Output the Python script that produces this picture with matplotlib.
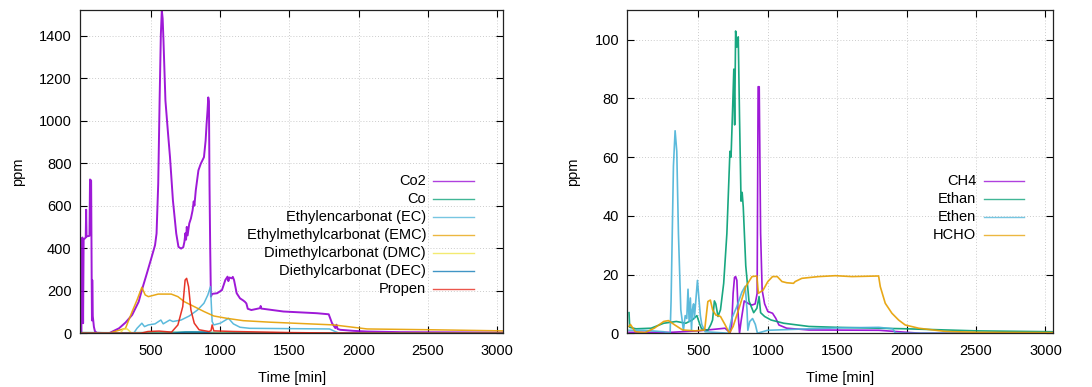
"""Two gas-concentration traces side by side, gnuplot look (inward ticks, dotted grid)."""

import matplotlib

matplotlib.use("Agg")
import matplotlib.pyplot as plt

plt.rcParams["font.family"] = ["Liberation Sans", "DejaVu Sans"]

# gnuplot's default line colours
_PURPLE = "#9400d3"
_GREEN = "#009e73"
_SKY = "#4ab3d8"
_ORANGE = "#e69f00"
_YELLOW = "#f0e442"
_BLUE = "#0072b2"
_RED = "#e51e10"
_INK = "#000000"

# ---- left panel: carbonates and main gases (ppm over minutes) ----
co2_t = [0, 2, 8, 12, 16, 31, 34, 37, 58, 62, 70, 74, 76, 78, 82, 90, 97, 110,
         200, 224, 271, 318, 366, 413, 436, 472, 507, 531, 542, 554, 564, 573,
         580, 586, 592, 606, 625, 639, 660, 684, 700, 719, 735, 743, 750, 755,
         760, 766, 778, 790, 802, 810, 815, 825, 844, 861, 884, 896, 903, 910,
         915, 920, 924, 929, 934, 943, 979, 1014, 1038, 1054, 1060, 1068, 1085,
         1092, 1101, 1120, 1144, 1165, 1179, 1190, 1200, 1226, 1290, 1293, 1297,
         1458, 1699, 1784, 1808, 1832, 1840, 1848, 1868, 1964, 2061, 2302, 3040]
co2_v = [0, 445, 450, 47, 440, 450, 581, 455, 458, 723, 718, 250, 60, 250, 80,
         30, 10, 2, 0, 8, 23, 50, 86, 148, 203, 281, 359, 414, 469, 703, 1094,
         1406, 1518, 1480, 1375, 1094, 938, 828, 625, 469, 406, 398, 405, 430,
         470, 440, 500, 460, 516, 540, 578, 620, 600, 672, 766, 797, 828, 906,
         984, 1050, 1109, 1090, 700, 400, 172, 185, 188, 203, 250, 266, 245, 262,
         258, 265, 250, 188, 164, 155, 148, 140, 115, 109, 118, 128, 116, 102,
         94, 89, 47, 24, 40, 20, 16, 11, 8, 5, 3]

co_t = [0, 300, 800, 1000, 2000, 3040]
co_v = [3, 2, 5, 3, 1, 0]

ec_t = [0, 377, 401, 436, 455, 483, 531, 573, 590, 637, 660, 719, 778, 837, 884,
        912, 931, 943, 955, 1002, 1061, 1096, 1144, 1214, 1790, 1830, 1860, 3040]
ec_v = [0, 0, 23, 47, 31, 39, 44, 62, 44, 62, 55, 62, 81, 109, 141, 180, 219,
        55, 39, 47, 70, 44, 28, 23, 20, 8, 0, 0]

emc_t = [0, 200, 318, 366, 401, 436, 460, 483, 554, 648, 696, 743, 814, 884,
         955, 1049, 1167, 1356, 1820, 2061, 2542, 3040]
emc_v = [0, 0, 23, 102, 156, 216, 180, 172, 184, 184, 172, 148, 125, 102, 81,
         70, 59, 52, 39, 20, 16, 11]

dmc_t = [0, 280, 303, 330, 360, 900, 1000, 1100, 3040]
dmc_v = [0, 0, 20, 20, 2, 0, 3, 0, 0]

dec_t = [0, 650, 750, 880, 940, 3040]
dec_v = [0, 0, 5, 5, 0, 0]

propen_t = [0, 430, 480, 560, 650, 696, 731, 748, 759, 773, 790, 814, 849, 920,
            935, 943, 955, 1100, 1500, 1800, 2000, 3040]
propen_v = [0, 0, 8, 10, 5, 39, 125, 250, 258, 219, 109, 47, 16, 8, 12, 39, 11,
            8, 3, 1, 0, 0]

# ---- right panel: light hydrocarbons and formaldehyde ----
ch4_t = [0, 300, 500, 692, 720, 728, 740, 750, 760, 768, 777, 787, 796, 807,
         830, 864, 886, 909, 923, 930, 938, 948, 959, 977, 1000, 1034, 1057,
         1080, 1136, 1296, 1800, 2000, 2100, 3050]
ch4_v = [0.3, 0.3, 0.8, 1.7, 0.5, 0, 3, 13.6, 19, 19.3, 18, 5.7, 0, 4, 11, 10,
         9.6, 10, 13.6, 84, 84, 34, 14.7, 10, 7.4, 6.8, 5.1, 2.8, 1.7, 1.1, 1,
         0.3, 0, 0]

ethan_t = [0, 5, 50, 159, 250, 341, 409, 455, 489, 510, 523, 568, 590, 602,
           615, 625, 641, 659, 682, 705, 727, 735, 746, 755, 761, 768, 777, 787,
           796, 807, 815, 823, 841, 864, 898, 921, 937, 948, 977, 1023, 1114,
           1296, 1500, 2000, 2500, 3050]
ethan_v = [7, 2, 1.5, 1.7, 3.4, 4, 3.4, 4.5, 6, 3, 1.5, 1, 3, 4.5, 11, 10, 5.7,
           8, 17, 34, 62, 60, 76, 90, 71, 103, 97.5, 101, 74, 45, 48, 43, 23,
           11, 7, 8.5, 12.5, 7, 5.7, 4.5, 3.4, 2.3, 2, 1.5, 0.8, 0.5]

ethen_t = [0, 100, 250, 296, 303, 320, 332, 344, 356, 373, 392, 405, 416, 425,
           433, 442, 450, 457, 465, 471, 481, 493, 505, 514, 524, 548, 716, 740,
           776, 813, 837, 850, 856, 870, 890, 910, 925, 1000, 1300, 1500, 1800,
           1900, 1920, 3050]
ethen_v = [1, 1, 0.5, 0, 11, 57, 69, 62, 34, 8, 1, 6, 5, 15, 4, 12, 1, 8, 10, 5,
           11, 18, 11, 6, 3, 0.5, 0, 5, 9, 14, 16, 8, 1, 4, 5, 3, 0, 1, 1.5, 1.8,
           2, 1.5, 0, 0]

hcho_t = [0, 10, 45, 114, 182, 250, 284, 330, 386, 477, 545, 568, 586, 602, 625,
          659, 693, 723, 750, 796, 841, 886, 921, 932, 966, 1000, 1034, 1068,
          1102, 1136, 1185, 1197, 1245, 1365, 1486, 1606, 1798, 1810, 1846, 1894,
          1942, 1990, 2087, 2279, 2519, 3050]
hcho_v = [2.3, 3, 0.5, 0.2, 1.7, 4, 4.3, 2.8, 1.1, 0.8, 1.1, 10.8, 11.3, 8, 6.2,
          5.7, 2.8, 0, 2.3, 9, 15.9, 19.3, 19.5, 13.6, 14.7, 17.6, 19.3, 19.3,
          17.6, 17.2, 17, 17.6, 18.7, 19.3, 19.6, 19.3, 19.5, 15.9, 10.2, 6.8,
          4.5, 2.8, 1.7, 0.6, 0.3, 0.2]

left_series = [
    ("Co2", co2_t, co2_v, _PURPLE),
    ("Co", co_t, co_v, _GREEN),
    ("Ethylencarbonat (EC)", ec_t, ec_v, _SKY),
    ("Ethylmethylcarbonat (EMC)", emc_t, emc_v, _ORANGE),
    ("Dimethylcarbonat (DMC)", dmc_t, dmc_v, _YELLOW),
    ("Diethylcarbonat (DEC)", dec_t, dec_v, _BLUE),
    ("Propen", propen_t, propen_v, _RED),
]
right_series = [
    ("CH4", ch4_t, ch4_v, _PURPLE),
    ("Ethan", ethan_t, ethan_v, _GREEN),
    ("Ethen", ethen_t, ethen_v, _SKY),
    ("HCHO", hcho_t, hcho_v, _ORANGE),
]

_SIZE = 10.5


def _style(ax, yticks, xlim, ylim) -> None:
    ax.set_xlim(*xlim)
    ax.set_ylim(*ylim)
    ax.set_xticks([500, 1000, 1500, 2000, 2500, 3000])
    ax.set_yticks(yticks)
    ax.tick_params(direction="in", top=True, right=True, length=5, width=0.8,
                   labelsize=_SIZE, colors=_INK)
    ax.tick_params(axis="x", pad=8)
    ax.tick_params(axis="y", pad=6)
    for side in ax.spines.values():
        side.set_linewidth(0.9)
        side.set_color("#222222")
    ax.grid(color="#cccccc", linestyle=(0, (1, 2)), linewidth=0.7)
    ax.set_axisbelow(True)
    ax.set_xlabel("Time [min]", fontsize=_SIZE)
    ax.set_ylabel("ppm", fontsize=_SIZE)


def _legend(ax, series, text_x, line_x) -> None:
    # gnuplot key: right-aligned names, sample line to their right
    y = 0.472
    for name, _, _, color in series:
        ax.text(text_x, y, name, transform=ax.transAxes, ha="right", va="center",
                fontsize=_SIZE, color=_INK)
        ax.plot(line_x, [y, y], transform=ax.transAxes, color=color, lw=1.0,
                alpha=0.75, clip_on=False)
        y -= 0.0558


fig = plt.figure(figsize=(10.92, 3.87), dpi=100)
ax1 = fig.add_axes([0.0733, 0.139, 0.3874, 0.834])
ax2 = fig.add_axes([0.5745, 0.139, 0.3896, 0.834])

for name, t, v, color in left_series:
    ax1.plot(t, v, color=color, lw=1.4 if name == "Co2" else 1.1, alpha=0.9)
for name, t, v, color in right_series:
    ax2.plot(t, v, color=color, lw=1.2, alpha=0.9)

_style(ax1, [0, 200, 400, 600, 800, 1000, 1200, 1400], (-10, 3042), (0, 1518))
_style(ax2, [0, 20, 40, 60, 80, 100], (-12, 3053), (0, 110))
ax1.yaxis.set_label_coords(-0.13, 0.5)
ax2.yaxis.set_label_coords(-0.112, 0.5)
ax1.xaxis.set_label_coords(0.5, -0.117)
ax2.xaxis.set_label_coords(0.5, -0.117)

_legend(ax1, left_series, 0.818, [0.835, 0.931])
_legend(ax2, right_series, 0.820, [0.838, 0.932])

fig.savefig("out.png", dpi=100, facecolor="white")
